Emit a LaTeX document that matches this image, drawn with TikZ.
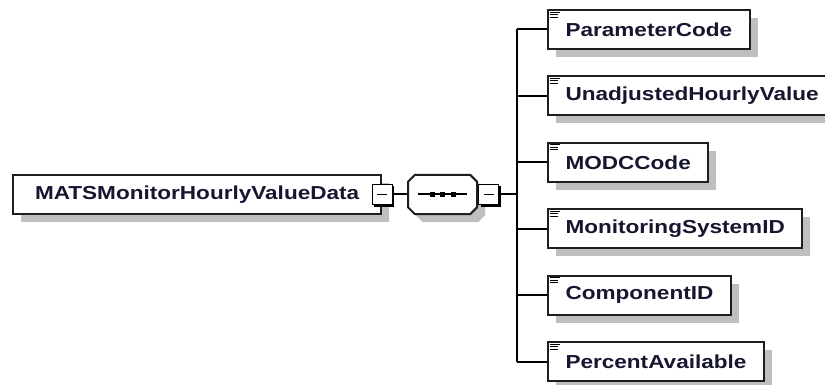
\documentclass[tikz,border=0pt]{standalone}
\usepackage{fontspec}
\newfontfamily\elemfont{Liberation Sans}[FakeStretch=1.2]
\usetikzlibrary{positioning,shapes.misc,shadows}
\definecolor{elemtext}{RGB}{22,22,48}
\definecolor{elemline}{RGB}{30,30,30}
\begin{document}
\begin{tikzpicture}[x=1pt,y=-1pt,line width=2pt,
    elem/.style={draw=elemline,fill=white,minimum height=39pt,inner xsep=17.5pt,anchor=west,
      font=\elemfont\bfseries\fontsize{18.8}{20}\selectfont,text=elemtext,
      general shadow={fill=black!25,shadow xshift=8pt,shadow yshift=-8pt}},
    minus/.style={draw=black,fill=white,minimum size=20pt,inner sep=0pt,line width=1.4pt,
      general shadow={fill=black,shadow xshift=2pt,shadow yshift=-2pt}}]
    \useasboundingbox (0,0) rectangle (825,385);
    \coordinate (bus) at (517,0);
    \node[elem,inner xsep=22pt] (root) at (12,194.5) {MATSMonitorHourlyValueData};
    \node[minus] (m1) at (root.east) {};
    \node[draw=elemline,fill=white,chamfered rectangle,chamfered rectangle xsep=9pt,
      chamfered rectangle ysep=9pt,minimum width=69pt,minimum height=39pt,
      general shadow={fill=black!25,shadow xshift=8pt,shadow yshift=-8pt}] (seq) at (442.5,194.5) {};
    \node[minus,right=0pt of seq] (m2) {};
    \draw (m1) -- (seq);
    \draw ([xshift=-24.5pt]seq.center) -- ([xshift=24.5pt]seq.center);
    \foreach \d in {-10.5,0,10.5}
      \fill ([xshift=\d pt]seq.center) +(-2.5,-2.5) rectangle +(2.5,2.5);
    \foreach \m in {m1,m2}
      \draw[line width=1.4pt] ([xshift=-5pt]\m.center) -- ([xshift=5pt]\m.center);
    \foreach \name [count=\i] in {ParameterCode,UnadjustedHourlyValue,MODCCode,MonitoringSystemID,ComponentID,PercentAvailable}{
      \node[elem] (c\i) at (547,{29.5+66.4*(\i-1)}) {\name};
      \foreach \k/\len in {0/10,2.5/8,5/8}
        \draw[line width=0.9pt] ([shift={(2.5,3+\k)}]c\i.north west) -- ++(\len,0);
      \draw (c\i.west) -- (c\i.west -| bus);
    }
    \draw (c1.west -| bus) -- (c6.west -| bus);
    \draw (m2.east) -- (m2.east -| bus);
\end{tikzpicture}
\end{document}
